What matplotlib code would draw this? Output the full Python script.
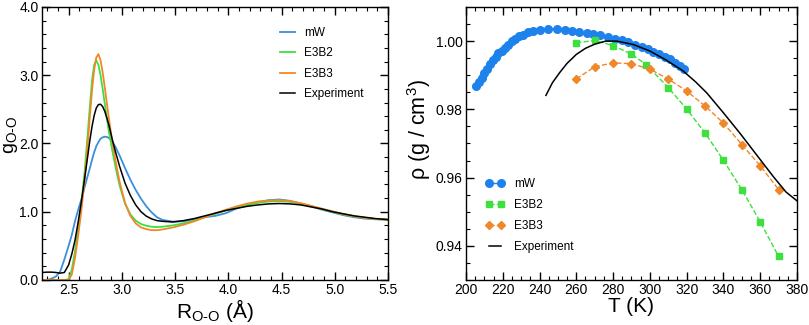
import matplotlib
matplotlib.use("Agg")
import matplotlib.pyplot as plt
from matplotlib.ticker import MultipleLocator, FormatStrFormatter

plt.rcParams['font.family'] = ['Liberation Sans', 'DejaVu Sans']
plt.rcParams['mathtext.fontset'] = 'custom'
plt.rcParams['mathtext.rm'] = 'Liberation Sans'
plt.rcParams['mathtext.it'] = 'Liberation Sans'

# ---- left panel: g_OO(r) ----
r = [2.25, 2.30, 2.34, 2.38, 2.42, 2.46, 2.50, 2.53, 2.56, 2.59, 2.62, 2.65, 2.68, 2.70,
     2.72, 2.74, 2.76, 2.78, 2.80, 2.82, 2.84, 2.86, 2.88, 2.91, 2.94, 2.98, 3.03, 3.08,
     3.13, 3.18, 3.23, 3.28, 3.33, 3.38, 3.48, 3.58, 3.68, 3.78, 3.88, 3.98, 4.08, 4.18,
     4.28, 4.38, 4.48, 4.58, 4.68, 4.78, 4.88, 4.98, 5.08, 5.18, 5.28, 5.38, 5.50]

g_mw = [0.0, 0.0, 0.02, 0.05, 0.12, 0.30, 0.50, 0.66, 0.86, 1.03, 1.18, 1.36, 1.53, 1.64,
        1.76, 1.87, 1.96, 2.02, 2.07, 2.09, 2.10, 2.095, 2.08, 2.03, 1.95, 1.82, 1.64, 1.47,
        1.32, 1.19, 1.08, 0.99, 0.92, 0.88, 0.855, 0.86, 0.89, 0.92, 0.94, 0.98, 1.05, 1.10,
        1.14, 1.17, 1.18, 1.16, 1.12, 1.08, 1.03, 0.99, 0.95, 0.92, 0.90, 0.89, 0.88]

g_e3b2 = [0.0, 0.0, 0.0, 0.0, 0.0, 0.0, 0.01, 0.15, 0.42, 0.75, 1.12, 1.58, 2.15, 2.55,
          2.92, 3.15, 3.22, 3.15, 3.00, 2.80, 2.58, 2.36, 2.16, 1.90, 1.66, 1.38, 1.12, 0.96,
          0.87, 0.82, 0.795, 0.78, 0.775, 0.78, 0.80, 0.83, 0.87, 0.92, 0.97, 1.02, 1.06, 1.10,
          1.13, 1.15, 1.155, 1.145, 1.12, 1.08, 1.04, 1.00, 0.96, 0.93, 0.91, 0.895, 0.885]

g_e3b3 = [0.0, 0.0, 0.0, 0.0, 0.0, 0.0, 0.0, 0.08, 0.32, 0.65, 1.02, 1.45, 2.00, 2.40,
          2.78, 3.08, 3.26, 3.31, 3.22, 3.04, 2.82, 2.58, 2.35, 2.03, 1.75, 1.43, 1.13, 0.94,
          0.83, 0.77, 0.745, 0.73, 0.73, 0.74, 0.77, 0.81, 0.86, 0.92, 0.98, 1.03, 1.08, 1.12,
          1.15, 1.165, 1.17, 1.155, 1.125, 1.085, 1.045, 1.005, 0.965, 0.935, 0.91, 0.895, 0.885]

g_exp = [0.11, 0.115, 0.115, 0.11, 0.10, 0.11, 0.22, 0.38, 0.58, 0.85, 1.15, 1.48, 1.82, 2.05,
         2.25, 2.41, 2.52, 2.57, 2.575, 2.54, 2.47, 2.37, 2.26, 2.06, 1.88, 1.66, 1.42, 1.24,
         1.10, 1.00, 0.935, 0.895, 0.87, 0.86, 0.85, 0.87, 0.90, 0.94, 0.98, 1.02, 1.05, 1.08,
         1.10, 1.115, 1.12, 1.115, 1.10, 1.07, 1.04, 1.00, 0.97, 0.94, 0.92, 0.90, 0.885]

# ---- right panel: density vs T ----
T_mw = [205.3, 207.1, 208.5, 209.8, 211.2, 213.1, 214.5, 216.1, 217.6, 219.4, 221.2, 223.0,
        224.8, 226.6, 229.0, 231.2, 233.9, 236.6, 240.2, 244.8, 249.3, 253.8, 257.5, 261.6,
        265.6, 269.2, 272.9, 277.4, 281.0, 284.7, 288.3, 291.9, 295.5, 299.1, 301.9, 305.1,
        308.2, 310.9, 313.6, 316.4, 318.6]
rho_mw = [0.9867, 0.9881, 0.9893, 0.9906, 0.9919, 0.9932, 0.9945, 0.9953, 0.9964, 0.9971,
          0.9981, 0.9990, 1.0000, 1.0007, 1.0015, 1.0019, 1.0026, 1.0031, 1.0034, 1.0036,
          1.0036, 1.0034, 1.0031, 1.0026, 1.0024, 1.0021, 1.0017, 1.0013, 1.0007, 1.0003,
          0.9997, 0.9990, 0.9983, 0.9976, 0.9968, 0.9961, 0.9954, 0.9947, 0.9937, 0.9927,
          0.9919]

T_e3b2 = [260, 270, 280, 290, 298, 310, 320, 330, 340, 350, 360, 370]
rho_e3b2 = [0.9995, 1.0002, 0.9987, 0.9962, 0.9931, 0.9864, 0.9801, 0.9731, 0.9651,
            0.9565, 0.9471, 0.9369]

T_e3b3 = [260, 270, 280, 290, 300, 310, 320, 330, 340, 350, 360, 370]
rho_e3b3 = [0.9889, 0.9925, 0.9936, 0.9934, 0.9918, 0.9889, 0.9854, 0.9810, 0.9760,
            0.9697, 0.9635, 0.9565]

T_exp = [243.5, 247, 251, 255, 260, 265, 270, 276, 282, 291, 300, 309, 318, 325, 331,
         340, 349, 358, 367, 374, 380]
rho_exp = [0.9841, 0.9878, 0.9908, 0.9935, 0.9961, 0.9979, 0.9991, 1.0000, 1.0000, 0.9990,
           0.9971, 0.9944, 0.9913, 0.9880, 0.9848, 0.9790, 0.9730, 0.9667, 0.9604, 0.9558,
           0.9532]

c_blue = '#3b8fdc'
c_blue2 = '#1e82ec'
c_green = '#3ee03e'
c_orange = '#f0882a'

fig = plt.figure(figsize=(8.09, 3.25), dpi=100)
ax1 = fig.add_axes([0.0519, 0.1385, 0.4277, 0.84])
ax2 = fig.add_axes([0.576, 0.1385, 0.4091, 0.84])

ax1.plot(r, g_mw, color=c_blue, lw=1.3, label='mW')
ax1.plot(r, g_e3b2, color=c_green, lw=1.3, label='E3B2')
ax1.plot(r, g_e3b3, color=c_orange, lw=1.3, label='E3B3')
ax1.plot(r, g_exp, color='black', lw=1.1, label='Experiment')
ax1.set_xlim(2.25, 5.5)
ax1.set_ylim(0, 4.0)
ax1.xaxis.set_major_locator(MultipleLocator(0.5))
ax1.xaxis.set_minor_locator(MultipleLocator(0.1))
ax1.yaxis.set_major_locator(MultipleLocator(1.0))
ax1.yaxis.set_minor_locator(MultipleLocator(0.2))
ax1.xaxis.set_major_formatter(FormatStrFormatter('%.1f'))
ax1.yaxis.set_major_formatter(FormatStrFormatter('%.1f'))
ax1.set_xlabel('R$_{\\mathrm{O\u2010O}}$ (Å)', fontsize=15, labelpad=0)
ax1.set_ylabel('g$_{\\mathrm{O\u2010O}}$', fontsize=14)
ax1.yaxis.set_label_coords(-0.064, 0.53)
ax1.legend(loc='upper right', frameon=False, fontsize=8.5, handlelength=1.2,
           labelspacing=0.7, bbox_to_anchor=(0.96, 0.965))

ax2.plot(T_mw, rho_mw, color=c_blue2, marker='o', ms=5.5, lw=1, label='mW')
ax2.plot(T_e3b2, rho_e3b2, color=c_green, marker='s', ms=4.5, ls='--', lw=1, label='E3B2')
ax2.plot(T_e3b3, rho_e3b3, color=c_orange, marker='D', ms=4.2, ls='--', lw=1, label='E3B3')
ax2.plot(T_exp, rho_exp, color='black', lw=1.1, label='Experiment')
ax2.set_xlim(200, 380)
ax2.set_ylim(0.93, 1.01)
ax2.xaxis.set_major_locator(MultipleLocator(20))
ax2.xaxis.set_minor_locator(MultipleLocator(5))
ax2.yaxis.set_major_locator(MultipleLocator(0.02))
ax2.yaxis.set_minor_locator(MultipleLocator(0.005))
ax2.yaxis.set_major_formatter(FormatStrFormatter('%.2f'))
ax2.set_xlabel('T (K)', fontsize=15, labelpad=0)
ax2.set_ylabel(r'ρ (g / cm$^3$)', fontsize=15.5)
ax2.yaxis.set_label_coords(-0.1, 0.55)
ax2.legend(loc='lower left', frameon=False, fontsize=8.5, handlelength=1.6, numpoints=2,
           labelspacing=0.75, bbox_to_anchor=(0.028, 0.06))

for ax in (ax1, ax2):
    ax.tick_params(which='both', direction='in', top=True, right=True, labelsize=10)
    ax.tick_params(which='major', length=6, width=1, pad=2.5)
    ax.tick_params(which='minor', length=3, width=0.8)
    for s in ax.spines.values():
        s.set_linewidth(1.0)

fig.savefig('out.png', dpi=100)
